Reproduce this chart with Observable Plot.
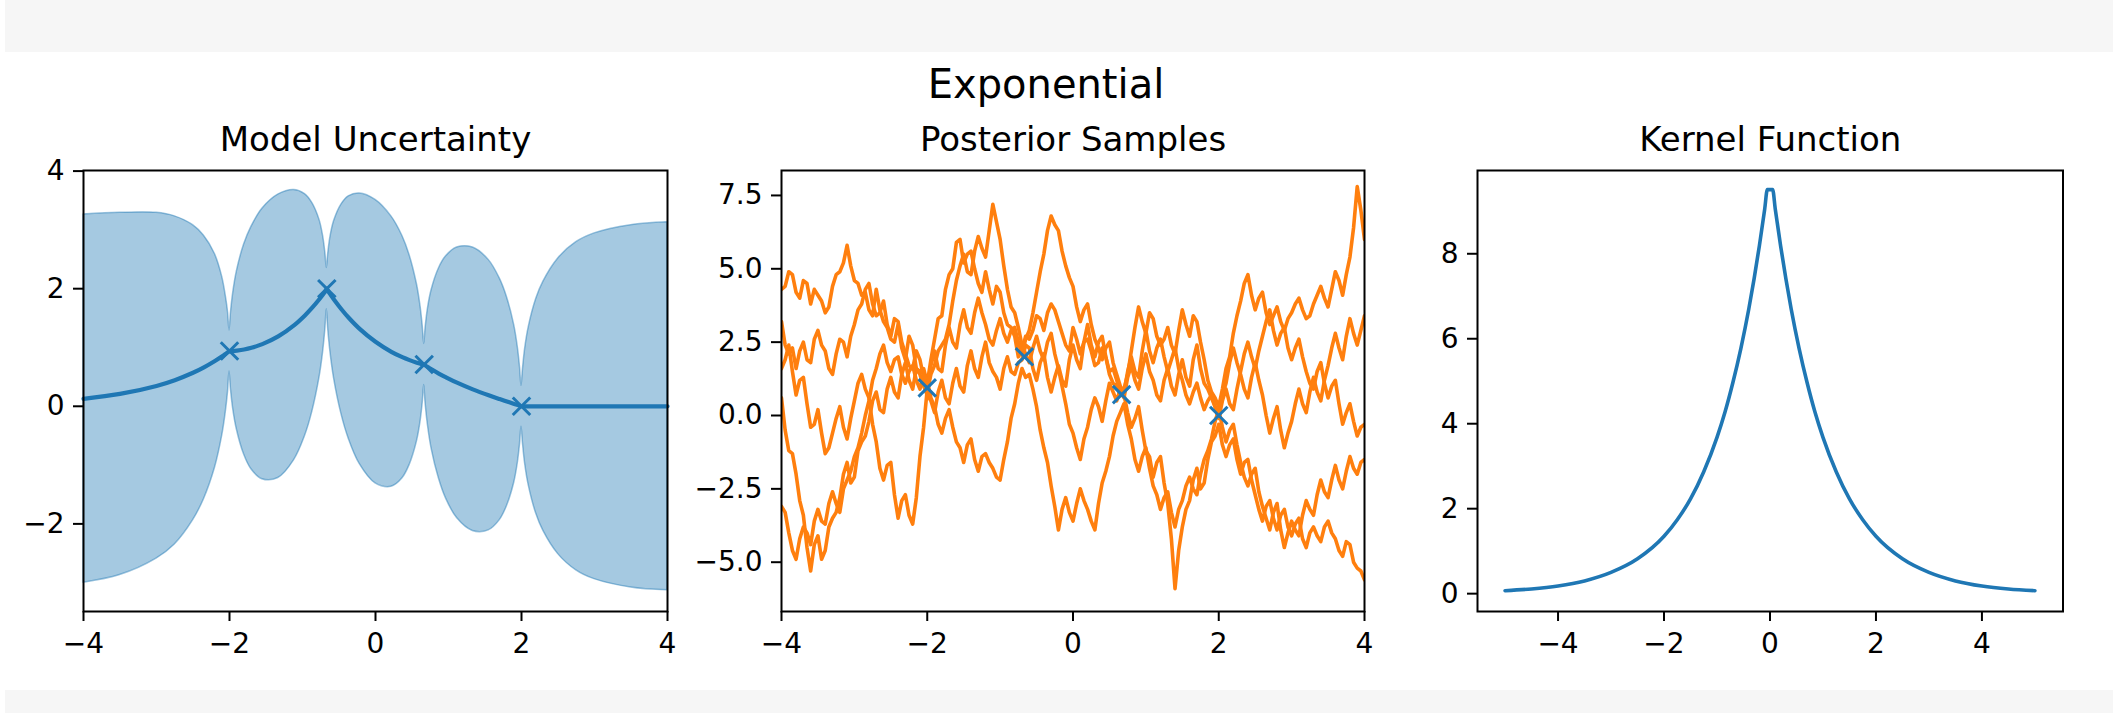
<!DOCTYPE html>
<html>
<head>
<meta charset="utf-8">
<script src="https://cdn.jsdelivr.net/npm/d3@7"></script>
<script src="https://cdn.jsdelivr.net/npm/@observablehq/plot@0.6"></script>
<style>
  html, body { margin: 0; padding: 0; background: #ffffff; }
  #wrap { position: relative; width: 2113px; height: 713px; overflow: hidden; background: #ffffff; font-family: "DejaVu Sans", sans-serif; }
  .band { position: absolute; left: 5px; width: 2108px; background: #f6f6f6; }
  .panel { position: absolute; top: 52px; }
  .panel svg { overflow: visible; }
  #title { position: absolute; left: 1046px; top: 64px; transform: translateX(-50%); font-size: 40px; line-height: 40px; white-space: nowrap; color: #000; }
</style>
</head>
<body>
<div id="wrap">
  <div class="band" style="top:0;height:52px"></div>
  <div class="band" style="top:690px;height:23px"></div>
  <div id="title">Exponential</div>
  <div id="p1" class="panel" style="left:0px"></div>
  <div id="p2" class="panel" style="left:680px"></div>
  <div id="p3" class="panel" style="left:1380px"></div>
</div>
<script>
// ---------- Panel 1: Model Uncertainty ----------
const obsX = [-2, -0.667, 0.667, 2];
const obsY = [0.94, 2.0, 0.71, 0.0];

const bandX = [-4, -3.5, -3, -2.75, -2.5, -2.35, -2.2, -2.1, -2.05, -2.02, -2.0,
  -1.98, -1.95, -1.9, -1.8, -1.7, -1.55, -1.333, -1.117, -0.967, -0.867, -0.767, -0.717, -0.687, -0.667,
  -0.647, -0.617, -0.567, -0.467, -0.367, -0.217, 0.0, 0.217, 0.367, 0.467, 0.567, 0.617, 0.647, 0.667,
  0.687, 0.717, 0.767, 0.867, 0.967, 1.117, 1.333, 1.55, 1.7, 1.8, 1.9, 1.95, 1.98, 2.0,
  2.02, 2.05, 2.1, 2.2, 2.3, 2.5, 2.75, 3.0, 3.5, 4.0];
const meanY = [0.127, 0.21, 0.346, 0.444, 0.57, 0.662, 0.77, 0.85, 0.894, 0.921, 0.94,
  0.937, 0.939, 0.946, 0.965, 0.994, 1.057, 1.189, 1.377, 1.546, 1.677, 1.825, 1.905, 1.956, 2.0,
  1.953, 1.899, 1.812, 1.651, 1.506, 1.317, 1.097, 0.926, 0.835, 0.785, 0.742, 0.723, 0.713, 0.71,
  0.691, 0.667, 0.629, 0.557, 0.492, 0.401, 0.287, 0.186, 0.122, 0.081, 0.04, 0.02, 0.008, 0,
  0, 0, 0, 0, 0, 0, 0, 0, 0, 0];
const bandUpper = [3.26, 3.29, 3.29, 3.23, 3.08, 2.90, 2.59, 2.20, 1.87, 1.60, 1.29,
  1.59, 1.92, 2.29, 2.75, 3.05, 3.36, 3.60, 3.68, 3.61, 3.46, 3.17, 2.89, 2.61, 2.35,
  2.60, 2.88, 3.15, 3.43, 3.57, 3.62, 3.51, 3.23, 2.90, 2.57, 2.08, 1.70, 1.36, 1.06,
  1.34, 1.65, 1.97, 2.34, 2.55, 2.70, 2.70, 2.49, 2.18, 1.86, 1.38, 1.00, 0.66, 0.35,
  0.63, 0.98, 1.35, 1.82, 2.12, 2.51, 2.79, 2.94, 3.08, 3.13];
const bandLower = [-3.00, -2.87, -2.59, -2.35, -1.94, -1.58, -1.05, -0.50, -0.09, 0.25, 0.59,
  0.29, -0.04, -0.39, -0.82, -1.07, -1.24, -1.22, -0.92, -0.51, -0.10, 0.49, 0.93, 1.31, 1.65,
  1.30, 0.92, 0.47, -0.13, -0.55, -0.98, -1.31, -1.37, -1.23, -1.00, -0.60, -0.26, 0.06, 0.36,
  0.04, -0.31, -0.71, -1.22, -1.57, -1.90, -2.12, -2.11, -1.94, -1.70, -1.30, -0.96, -0.64, -0.35,
  -0.63, -0.98, -1.35, -1.82, -2.12, -2.51, -2.79, -2.94, -3.08, -3.13];

// ---------- Panel 2: Posterior Samples ----------
const sampleX = [-4, -3.95, -3.9, -3.85, -3.8, -3.75, -3.7, -3.65, -3.6, -3.55, -3.5, -3.45, -3.4, -3.35, -3.3, -3.25, -3.2, -3.15, -3.1, -3.05,
  -3, -2.95, -2.9, -2.85, -2.8, -2.75, -2.7, -2.65, -2.6, -2.55, -2.5, -2.45, -2.4, -2.35, -2.3, -2.25, -2.2, -2.15, -2.1, -2.05,
  -2, -1.95, -1.9, -1.85, -1.8, -1.75, -1.7, -1.65, -1.6, -1.55, -1.5, -1.45, -1.4, -1.35, -1.3, -1.25, -1.2, -1.15, -1.1, -1.05,
  -1, -0.95, -0.9, -0.85, -0.8, -0.75, -0.7, -0.65, -0.6, -0.55, -0.5, -0.45, -0.4, -0.35, -0.3, -0.25, -0.2, -0.15, -0.1, -0.05,
  0, 0.05, 0.1, 0.15, 0.2, 0.25, 0.3, 0.35, 0.4, 0.45, 0.5, 0.55, 0.6, 0.65, 0.7, 0.75, 0.8, 0.85, 0.9, 0.95,
  1, 1.05, 1.1, 1.15, 1.2, 1.25, 1.3, 1.35, 1.4, 1.45, 1.5, 1.55, 1.6, 1.65, 1.7, 1.75, 1.8, 1.85, 1.9, 1.95,
  2, 2.05, 2.1, 2.15, 2.2, 2.25, 2.3, 2.35, 2.4, 2.45, 2.5, 2.55, 2.6, 2.65, 2.7, 2.75, 2.8, 2.85, 2.9, 2.95,
  3, 3.05, 3.1, 3.15, 3.2, 3.25, 3.3, 3.35, 3.4, 3.45, 3.5, 3.55, 3.6, 3.65, 3.7, 3.75, 3.8, 3.85, 3.9, 3.95, 4];
const sample1 = [4.3, 4.4, 4.9, 4.8, 4.2, 4.0, 4.6, 4.5, 3.8, 4.3,
  4.1, 3.9, 3.5, 3.7, 4.4, 4.8, 4.9, 5.2, 5.8, 5.1,
  4.6, 4.5, 4.1, 4.2, 3.6, 3.4, 4.3, 3.6, 3.2, 3.0,
  2.6, 2.5, 3.1, 2.3, 1.9, 2.7, 2.4, 1.6, 1.5, 1.6,
  1.1, 1.9, 2.6, 3.3, 3.4, 4.3, 4.8, 5.0, 5.9, 6.0,
  5.2, 5.5, 5.6, 5.0, 4.5, 4.2, 4.9, 4.3, 3.8, 4.4,
  4.2, 3.5, 3.1, 3.0, 2.7, 2.0, 2.2, 2.7, 2.6, 2.9,
  3.4, 3.3, 2.9, 3.5, 3.8, 3.6, 3.2, 2.8, 2.4, 2.2,
  3.0, 2.6, 2.1, 2.5, 2.6, 2.2, 1.7, 1.8, 2.3, 2.0,
  1.4, 1.1, 1.0, 0.7, 0.9, 1.4, 2.2, 3.0, 3.7, 3.2,
  2.8, 3.5, 3.3, 2.7, 2.4, 2.6, 3.0, 2.4, 2.1, 2.9,
  3.6, 3.1, 2.7, 3.4, 3.2, 2.5, 1.9, 1.2, 0.8, 0.6,
  0.3, 0.9, 1.6, 2.0, 2.8, 3.4, 3.9, 4.5, 4.8, 4.1,
  3.6, 4.0, 4.2, 3.5, 3.1, 3.4, 3.7, 3.2, 2.9, 3.3,
  3.5, 3.8, 4.0, 3.6, 3.3, 3.4, 3.8, 4.1, 4.4, 4.0,
  3.7, 4.3, 4.9, 4.6, 4.1, 4.8, 5.4, 6.4, 7.8, 7.0, 6.0];
const sample2 = [3.2, 2.4, 2.1, 2.3, 1.6, 2.2, 2.5, 1.9, 1.8, 2.6,
  2.9, 2.4, 2.2, 1.6, 1.4, 2.1, 2.6, 2.5, 2.0, 2.7,
  3.1, 3.6, 3.8, 4.3, 4.5, 3.8, 3.4, 3.5, 3.9, 3.1,
  2.7, 3.3, 3.2, 2.5, 2.1, 1.7, 1.6, 2.2, 1.9, 1.3,
  0.8, 1.4, 1.7, 2.2, 2.4, 2.6, 3.1, 3.9, 4.6, 5.1,
  5.5, 4.9, 4.8, 5.6, 6.1, 5.7, 5.4, 6.3, 7.2, 6.6,
  6.0, 5.1, 4.3, 3.7, 3.5, 3.0, 2.4, 2.1, 1.8, 2.3,
  2.7, 2.2, 1.9, 2.5, 2.8, 2.1, 1.6, 1.0, 0.4, -0.3,
  -0.6, -1.1, -1.5, -0.8, -0.4, 0.2, 0.6, 0.3, -0.2, 0.5,
  1.1, 0.8, 0.5, 0.9, 0.7, 0.1, -0.4, -0.1, 0.3, -0.5,
  -1.2, -1.4, -2.1, -1.6, -1.4, -2.3, -3.0, -4.2, -5.9, -4.6,
  -3.8, -3.2, -2.9, -2.2, -1.8, -2.5, -2.3, -1.5, -0.9, -0.7,
  -0.3, -1.0, -1.4, -1.0, -0.8, -1.5, -2.0, -1.6, -1.5, -2.2,
  -2.7, -3.2, -3.6, -3.1, -2.9, -3.5, -3.9, -3.4, -3.2, -3.8,
  -4.1, -3.7, -3.5, -4.2, -4.5, -4.0, -3.8, -4.1, -4.3, -3.8,
  -3.6, -4.0, -4.2, -4.6, -4.8, -4.3, -4.4, -5.0, -5.2, -5.3, -5.6];
const sample3 = [0.6, -0.5, -1.2, -1.3, -2.0, -2.9, -3.4, -4.5, -5.3, -4.4,
  -4.1, -4.9, -4.6, -3.8, -3.5, -3.3, -2.8, -2.0, -1.6, -2.3,
  -2.1, -1.2, -0.9, -0.7, -0.2, 0.5, 0.8, 0.2, 0.1, 0.9,
  1.3, 0.8, 0.6, 1.4, 1.8, 1.2, 0.9, 1.6, 1.4, 1.0,
  0.7, 0.5, 0.1, 0.8, 1.2, 0.6, 0.4, 1.1, 1.6, 1.0,
  0.8, 1.7, 2.2, 1.6, 1.3, 2.0, 2.5, 1.8, 1.5, 1.3,
  0.9, 1.6, 2.0, 1.5, 1.4, 1.8, 1.9, 2.4, 2.3, 1.6,
  1.2, 1.8, 2.1, 1.3, 0.8, 1.3, 1.7, 1.2, 1.0, 1.9,
  2.4, 1.9, 1.6, 2.5, 3.1, 2.4, 2.0, 2.5, 2.7, 2.0,
  1.5, 1.6, 1.2, 0.8, 0.6, 1.3, 1.7, 1.2, 0.9, 1.6,
  2.1, 1.5, 1.2, 0.7, 0.5, 1.2, 1.6, 1.0, 0.7, 1.4,
  1.9, 1.3, 1.0, 1.9, 2.4, 1.6, 1.1, 0.9, 0.6, 0.3,
  -0.1, 0.5, 0.9, 0.4, 0.2, 0.9, 1.5, 2.1, 2.5, 2.0,
  1.6, 2.2, 2.7, 3.2, 3.6, 2.9, 2.4, 2.8, 3.0, 2.3,
  1.9, 2.3, 2.6, 2.0, 1.5, 1.1, 0.9, 1.5, 1.8, 1.1,
  0.6, 1.0, 1.2, 0.4, -0.3, 0.1, 0.4, -0.2, -0.7, -0.4, -0.3];
const sample4 = [-3.1, -3.3, -4.0, -4.6, -4.9, -4.2, -3.8, -4.0, -4.4, -3.6,
  -3.2, -3.6, -3.7, -3.0, -2.6, -3.0, -3.3, -2.5, -2.2, -1.9,
  -1.4, -1.1, -0.6, 0.0, 0.5, 1.2, 1.6, 2.1, 2.4, 1.8,
  1.5, 1.9, 2.0, 1.4, 1.1, 1.5, 1.7, 1.2, 0.9, 1.4,
  1.2, 0.6, 0.3, -0.3, -0.6, -0.1, 0.2, -0.4, -0.9, -1.1,
  -1.6, -1.0, -0.8, -1.5, -1.9, -1.4, -1.3, -1.6, -1.8, -2.1,
  -2.2, -1.5, -0.9, -0.1, 0.4, 1.1, 1.6, 1.3, 1.4, 0.9,
  0.3, -0.5, -1.1, -1.6, -2.4, -3.1, -3.9, -3.2, -2.8, -3.3,
  -3.6, -3.0, -2.5, -2.9, -3.2, -3.6, -3.9, -3.0, -2.3, -1.9,
  -1.4, -0.7, -0.2, 0.1, 0.4, -0.3, -0.8, -1.5, -1.9, -1.4,
  -1.1, -1.8, -2.4, -2.7, -3.2, -2.8, -2.6, -3.3, -3.8, -3.2,
  -2.9, -2.4, -2.1, -2.5, -2.7, -2.0, -1.5, -1.2, -0.8, -0.2,
  0.2, -0.4, -0.9, -0.5, -0.3, -1.0, -1.6, -2.1, -2.4, -2.0,
  -1.8, -2.6, -3.1, -3.5, -3.9, -3.3, -3.0, -3.9, -4.5, -4.0,
  -3.6, -3.9, -4.1, -3.4, -2.9, -3.2, -3.4, -2.7, -2.2, -2.6,
  -2.8, -2.2, -1.7, -2.2, -2.5, -1.9, -1.4, -1.8, -2.0, -1.6, -1.5];
const sample5 = [1.6, 1.9, 2.4, 1.5, 0.7, 1.2, 1.3, 0.4, -0.4, -0.3,
  0.2, -0.6, -1.3, -1.1, -0.6, -0.1, 0.3, -0.4, -0.8, -0.1,
  0.5, 1.1, 1.4, 0.9, 0.6, -0.3, -0.9, -1.8, -2.2, -1.7,
  -1.6, -2.7, -3.5, -2.9, -2.7, -3.4, -3.7, -2.8, -1.4, -0.4,
  0.9, 1.7, 2.2, 1.6, 1.5, 2.4, 3.0, 2.5, 2.3, 3.1,
  3.6, 3.0, 2.8, 3.5, 4.0, 3.5, 3.1, 2.6, 2.4, 2.9,
  3.3, 2.8, 2.5, 2.9, 3.0, 2.5, 2.1, 2.6, 2.9, 3.5,
  4.2, 4.9, 5.5, 6.3, 6.8, 6.5, 6.3, 5.6, 5.1, 4.7,
  4.4, 3.7, 3.2, 3.6, 3.8, 3.1, 2.6, 2.3, 1.9, 2.3,
  2.5, 1.8, 1.4, 1.0, 0.8, 1.5, 2.0, 1.5, 1.3, 2.2,
  2.9, 2.2, 1.8, 2.3, 2.6, 2.0, 1.5, 1.9, 2.3, 1.6,
  1.2, 0.7, 0.4, 0.8, 1.1, 0.6, 0.2, 0.5, 0.7, 0.3,
  0.1, 0.7, 1.1, 1.8, 2.3, 1.8, 1.4, 0.9, 0.6, 1.3,
  1.8, 1.2, 0.7, 0.0, -0.6, -0.1, 0.3, -0.5, -1.1, -0.6,
  -0.2, 0.4, 0.9, 0.4, 0.1, 0.8, 1.3, 0.8, 0.5, 1.2,
  1.7, 2.3, 2.8, 2.3, 1.9, 2.7, 3.3, 2.8, 2.4, 2.9, 3.4];

// ---------- Panel 3: Kernel Function ----------
const kernelX = [-5, -4.5, -4, -3.5, -3, -2.5, -2, -1.75, -1.5, -1.25, -1, -0.85, -0.7, -0.55, -0.4, -0.3, -0.2, -0.1, -0.05,
  0.05, 0.1, 0.2, 0.3, 0.4, 0.55, 0.7, 0.85, 1, 1.25, 1.5, 1.75, 2, 2.5, 3, 3.5, 4, 4.5, 5];
const kernelY = [0.07, 0.11, 0.18, 0.30, 0.50, 0.82, 1.35, 1.74, 2.23, 2.87, 3.68, 4.27, 4.97, 5.77, 6.70, 7.41, 8.19, 9.05, 9.51,
  9.51, 9.05, 8.19, 7.41, 6.70, 5.77, 4.97, 4.27, 3.68, 2.87, 2.23, 1.74, 1.35, 0.82, 0.50, 0.30, 0.18, 0.11, 0.07];

// ---------- Ticks & titles ----------
const suptitle = "Exponential";
const titles = ["Model Uncertainty", "Posterior Samples", "Kernel Function"];
const xTicks = [-4, -2, 0, 2, 4];
const y1Ticks = [-2, 0, 2, 4];
const y2Ticks = [-5, -2.5, 0, 2.5, 5, 7.5];
const y3Ticks = [0, 2, 4, 6, 8];

// ---------- Build ----------
const BLUE = "#1f77b4", ORANGE = "#ff7f0e";
document.getElementById("title").textContent = suptitle;

const band = bandX.map((x, i) => ({x, m: meanY[i], hi: bandUpper[i], lo: bandLower[i]}));
const obs = obsX.map((x, i) => ({x, y: obsY[i]}));
const samples = [sample1, sample2, sample3, sample4, sample5];
const sampleRows = samples.flatMap((s, k) => s.map((y, i) => ({x: sampleX[i], y, s: k})));
const kernel = kernelX.map((x, i) => ({x, y: kernelY[i]}));

const style = {background: "transparent", fontFamily: "DejaVu Sans", fontSize: "28px", color: "#000", overflow: "visible"};
const H = 638, MT = 118, MB = 79;

function axes(yTicks, yFmt) {
  return [
    Plot.frame({stroke: "#000", strokeWidth: 2}),
    Plot.axisX({ticks: xTicks, tickSize: 10, tickPadding: 12, strokeWidth: 2, label: null, fontSize: 28}),
    Plot.axisY({ticks: yTicks, tickSize: 10, tickPadding: 9, strokeWidth: 2, label: null, fontSize: 28, tickFormat: yFmt})
  ];
}
function subtitle(t) {
  return Plot.text([t], {frameAnchor: "top", dy: -20, lineAnchor: "bottom", fontSize: 34, fill: "#000"});
}

const p1 = Plot.plot({
  width: 700, height: H, marginLeft: 83, marginRight: 33, marginTop: MT, marginBottom: MB,
  style,
  x: {domain: [-4, 4]},
  y: {domain: [-3.49, 4.01]},
  marks: [
    Plot.areaY(band, {x: "x", y1: "lo", y2: "hi", fill: BLUE, fillOpacity: 0.4, stroke: BLUE, strokeOpacity: 0.45, strokeWidth: 1.5, curve: "catmull-rom"}),
    Plot.line(band, {x: "x", y: "m", stroke: BLUE, strokeWidth: 4.2, curve: "catmull-rom"}),
    Plot.dot(obs, {x: "x", y: "y", symbol: "times", r: 8, stroke: BLUE, strokeWidth: 3}),
    ...axes(y1Ticks, d3.format("d")),
    subtitle(titles[0])
  ]
});
document.getElementById("p1").append(p1);

const p2 = Plot.plot({
  width: 720, height: H, marginLeft: 101, marginRight: 36, marginTop: MT, marginBottom: MB,
  style,
  x: {domain: [-4, 4]},
  y: {domain: [-6.68, 8.35]},
  marks: [
    Plot.line(sampleRows, {x: "x", y: "y", z: "s", stroke: ORANGE, strokeWidth: 3.6, clip: true}),
    Plot.dot(obs, {x: "x", y: "y", symbol: "times", r: 8, stroke: BLUE, strokeWidth: 3}),
    ...axes(y2Ticks, d3.format(".1f")),
    subtitle(titles[1])
  ]
});
document.getElementById("p2").append(p2);

const p3 = Plot.plot({
  width: 733, height: H, marginLeft: 97, marginRight: 50.5, marginTop: MT, marginBottom: MB,
  style,
  x: {domain: [-5.52, 5.53]},
  y: {domain: [-0.42, 9.96]},
  marks: [
    Plot.line(kernel, {x: "x", y: "y", stroke: BLUE, strokeWidth: 3.6, curve: "monotone-x"}),
    ...axes(y3Ticks, d3.format("d")),
    subtitle(titles[2])
  ]
});
document.getElementById("p3").append(p3);
</script>
</body>
</html>
